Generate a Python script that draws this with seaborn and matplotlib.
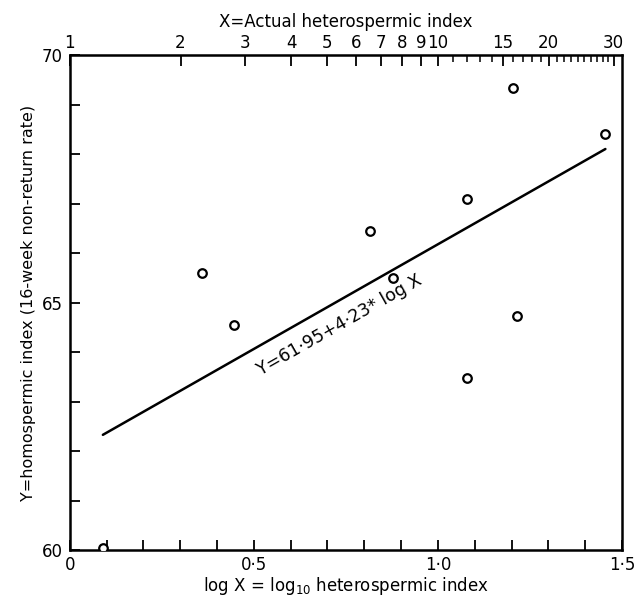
import numpy as np
import pandas as pd
import matplotlib
matplotlib.use("Agg")
import matplotlib.pyplot as plt
import seaborn as sns

# points (log10 of heterospermic index, non-return rate)
log_x = [0.09, 0.358, 0.446, 0.815, 0.877, 1.078, 1.078, 1.203, 1.215, 1.455]
y_rate = [60.05, 65.59, 64.55, 66.45, 65.50, 67.09, 63.48, 69.33, 64.74, 68.40]

# fitted line Y = a + b*logX
intercept = 61.95
slope = 4.23

top_major = [1, 2, 3, 4, 5, 6, 7, 8, 9, 10, 15, 20, 30]
top_minor = [11, 12, 13, 14, 16, 17, 18, 19, 21, 22, 23, 24, 25, 26, 27, 28, 29]
bottom_labels = {0.0: "0", 0.5: "0·5", 1.0: "1·0", 1.5: "1·5"}

sns.set_style("ticks")
plt.rcParams['font.family'] = ['DejaVu Sans']
plt.rcParams.update({"text.color": "black", "axes.labelcolor": "black",
                     "xtick.color": "black", "ytick.color": "black"})

df = pd.DataFrame({"logx": log_x, "y": y_rate})
fit_x = np.array([min(log_x), max(log_x)])
fit_df = pd.DataFrame({"logx": fit_x, "y": intercept + slope * fit_x})

fig = plt.figure(figsize=(6.34, 6.0), dpi=100)
ax = fig.add_axes([0.110, 0.083, 0.871, 0.825])

sns.lineplot(data=fit_df, x="logx", y="y", ax=ax, color="black", linewidth=1.8)
sns.scatterplot(data=df, x="logx", y="y", ax=ax, marker="o", s=38,
                facecolor="white", edgecolor="black", linewidth=1.6, zorder=5)

ax.set_xlim(0, 1.5)
ax.set_ylim(60, 70)

# bottom axis
ax.set_xticks(np.arange(0, 1.51, 0.1))
ax.set_xticklabels([bottom_labels.get(round(t, 1), "") for t in np.arange(0, 1.51, 0.1)])
ax.set_yticks(np.arange(60, 70.1, 1))
ax.set_yticklabels([str(int(t)) if t in (60, 65, 70) else "" for t in np.arange(60, 70.1, 1)])
ax.tick_params(axis="both", direction="in", length=7, width=1.3, labelsize=12)
ax.tick_params(axis="x", pad=4)
ax.tick_params(axis="y", pad=5)
ax.set_xlabel("log X = log$_{10}$ heterospermic index", fontsize=12, labelpad=1)
ax.set_ylabel("Y=homospermic index (16-week non-return rate)", fontsize=11.5, labelpad=4)

for side in ["left", "right", "top", "bottom"]:
    ax.spines[side].set_linewidth(1.8)
    ax.spines[side].set_color("black")

# top axis in actual index units
top = ax.secondary_xaxis("top")
top.set_xticks(np.log10(top_major))
top.set_xticklabels([str(v) for v in top_major])
top.set_xticks(np.log10(top_minor), minor=True)
top.tick_params(axis="x", which="major", direction="in", length=8, width=1.3, labelsize=12, pad=2)
top.tick_params(axis="x", which="minor", direction="in", length=5, width=1.1)
top.set_xlabel("X=Actual heterospermic index", fontsize=12, labelpad=5)

# equation written along the line
angle = np.degrees(np.arctan(slope * (0.825 * 600 / 10) / (0.871 * 634 / 1.5)))
tx = 0.72
ax.text(tx, intercept + slope * tx - 0.3, "Y=61·95+4·23* log X", rotation=angle,
        rotation_mode="anchor", ha="center", va="top", fontsize=12.5)

fig.savefig("out.png", dpi=100)
